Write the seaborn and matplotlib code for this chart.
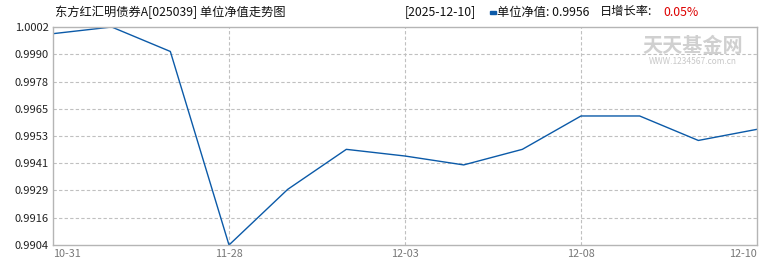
import matplotlib
matplotlib.use("Agg")
import matplotlib.pyplot as plt
import seaborn as sns
import pandas as pd
import numpy as np

# ---- data ----
nav_values = [0.9999, 1.0002, 0.9991, 0.9904, 0.9929, 0.9947, 0.9944, 0.9940,
              0.9947, 0.9962, 0.9962, 0.9951, 0.9956]
x_tick_pos = [0, 3, 6, 9, 12]
x_tick_labels = ["10-31", "11-28", "12-03", "12-08", "12-10"]
y_tick_labels = ["0.9904", "0.9916", "0.9929", "0.9941", "0.9953",
                 "0.9965", "0.9978", "0.9990", "1.0002"]
title_text = "东方红汇明债券A[025039] 单位净值走势图"
date_text = "[2025-12-10]"
nav_label = "单位净值: 0.9956"
growth_label = "日增长率:"
growth_value = "0.05%"
wm_main = "天天基金网"
wm_sub = "WWW.1234567.com.cn"

df = pd.DataFrame({"idx": np.arange(len(nav_values)), "nav": nav_values})

sns.set_style("white")
plt.rcParams["font.family"] = ["Noto Sans CJK SC", "DejaVu Sans"]

fig = plt.figure(figsize=(7.7, 2.7), dpi=100)
ax = fig.add_axes([53/770, 1-245/270, (757-53)/770, (245-27)/270])

sns.lineplot(data=df, x="idx", y="nav", ax=ax, color="#0b5aa8", linewidth=1.0)

ymin, ymax = min(nav_values), max(nav_values)
ax.set_xlim(0, len(nav_values) - 1)
ax.set_ylim(ymin, ymax)
yticks = np.linspace(ymin, ymax, len(y_tick_labels))
ax.set_yticks(yticks)
ax.set_yticklabels(y_tick_labels, fontsize=8, color="#222222")
ax.set_xticks(x_tick_pos)
ax.set_xticklabels(x_tick_labels, fontsize=7.8, color="#777777")
ax.set_xlabel("")
ax.set_ylabel("")
ax.tick_params(axis="both", length=0, pad=3)
for lbl in ax.get_xticklabels():
    lbl.set_horizontalalignment("center")
ax.get_xticklabels()[0].set_horizontalalignment("left")
ax.get_xticklabels()[-1].set_horizontalalignment("right")

# grid
for yt in yticks[1:-1]:
    ax.axhline(yt, color="#c0c0c0", linestyle=(0, (3, 2)), linewidth=0.8, zorder=0)
for xt in x_tick_pos[1:-1]:
    ax.axvline(xt, color="#c0c0c0", linestyle=(0, (3, 2)), linewidth=0.8, zorder=0)

for sp in ax.spines.values():
    sp.set_color("#b5b5b5")
    sp.set_linewidth(1.0)

# watermark
fig.text(693/770, 1-46/270, wm_main, fontsize=14.5, color="#d0d0d0",
         ha="center", va="center", fontweight="bold")
fig.text(693/770, 1-62/270, wm_sub, fontsize=6, color="#c8c8c8",
         ha="center", va="center")

# header texts
fs = 8.8
fig.text(55/770, 1-12/270, title_text, fontsize=fs, color="#111111",
         ha="left", va="center")
fig.text(405/770, 1-12/270, date_text, fontsize=fs, color="#111111",
         ha="left", va="center")
fig.patches.append(matplotlib.patches.Rectangle((490/770, 1-14/270), 6/770, 3/270,
                   transform=fig.transFigure, color="#0b5aa8"))
fig.text(497/770, 1-12/270, nav_label, fontsize=fs, color="#111111",
         ha="left", va="center")
fig.text(600/770, 1-12/270, growth_label, fontsize=fs, color="#111111",
         ha="left", va="center")
fig.text(663/770, 1-12/270, growth_value, fontsize=fs, color="#dd0000",
         ha="left", va="center")

fig.savefig("out.png", dpi=100)
